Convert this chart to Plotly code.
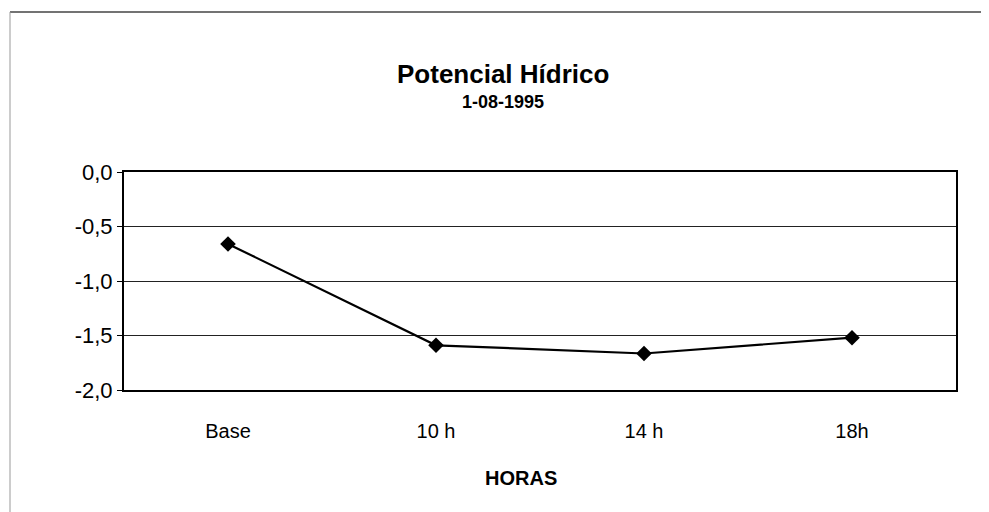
import plotly.graph_objects as go

categories = ["Base", "10 h", "14 h", "18h"]
potencial = [-0.66, -1.59, -1.665, -1.52]
y_ticks = [0.0, -0.5, -1.0, -1.5, -2.0]
y_tick_text = [f"{v:.1f}".replace(".", ",") for v in y_ticks]

W, H = 989, 512
L, R, T, B = 116, 41, 164, 130
pw, ph = W - L - R, H - T - B


def px(x):
    return (x - L) / pw


def py(y):
    return (H - B - y) / ph


font = "Liberation Sans, Arial, sans-serif"

fig = go.Figure()
fig.add_trace(go.Scatter(
    x=categories, y=potencial, mode="lines+markers",
    line=dict(color="black", width=2.2),
    marker=dict(symbol="diamond", size=12, color="black"),
    showlegend=False, cliponaxis=False,
))

fig.update_layout(
    width=W, height=H,
    margin=dict(l=L, r=R, t=T, b=B, autoexpand=False),
    paper_bgcolor="white", plot_bgcolor="white",
    font=dict(family=font, size=20, color="black"),
    xaxis=dict(
        type="category", range=[-0.5, 3.5], showgrid=False,
        showline=True, linecolor="black", linewidth=2, mirror=True,
        ticks="", ticklabelstandoff=22, tickfont=dict(size=20),
    ),
    yaxis=dict(
        range=[-2, 0], tickvals=y_ticks, ticktext=y_tick_text,
        showgrid=True, gridcolor="#222", gridwidth=1,
        showline=True, linecolor="black", linewidth=2, mirror=True,
        ticks="outside", ticklen=5, tickcolor="black", tickwidth=1,
        zeroline=False, tickfont=dict(size=22),
    ),
    annotations=[
        dict(text="<b>Potencial Hídrico</b>", x=px(W / 2), y=py(66),
             xref="paper", yref="paper", showarrow=False,
             font=dict(size=26, family=font), xanchor="center", yanchor="middle"),
        dict(text="<b>1-08-1995</b>", x=px(W / 2), y=py(94),
             xref="paper", yref="paper", showarrow=False,
             font=dict(size=18, family=font), xanchor="center", yanchor="middle"),
        dict(text="<b>HORAS</b>", x=px(513), y=py(470),
             xref="paper", yref="paper", showarrow=False,
             font=dict(size=20, family=font), xanchor="center", yanchor="middle"),
    ],
    shapes=[
        dict(type="line", xref="paper", yref="paper",
             x0=px(2), x1=px(989), y0=py(4), y1=py(4),
             line=dict(color="#444", width=1.5)),
        dict(type="line", xref="paper", yref="paper",
             x0=px(2), x1=px(2), y0=py(4), y1=py(506),
             line=dict(color="#999", width=1)),
        dict(type="line", xref="paper", yref="paper",
             x0=px(2), x1=px(989), y0=py(506), y1=py(506),
             line=dict(color="#ddd", width=1)),
    ],
)

fig.write_html("out.html")
